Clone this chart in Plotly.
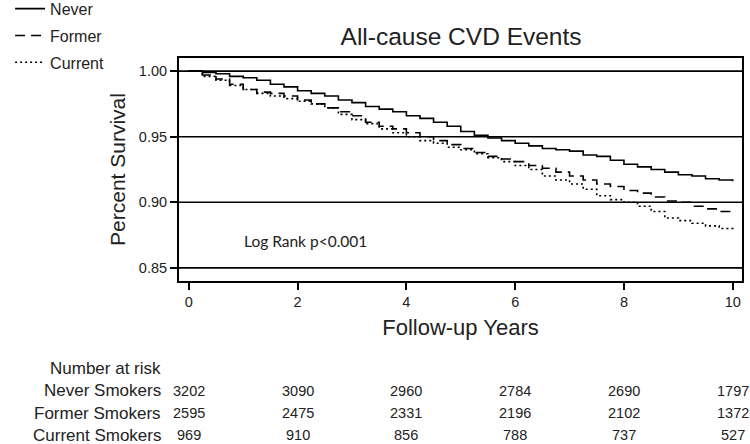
import plotly.graph_objects as go

years = [i * 0.25 for i in range(41)]

never = [1.000, 0.999, 0.998, 0.996, 0.995, 0.993, 0.990, 0.988, 0.985, 0.983,
         0.981, 0.978, 0.976, 0.973, 0.971, 0.969, 0.966, 0.964, 0.961, 0.958,
         0.954, 0.951, 0.949, 0.947, 0.945, 0.943, 0.941, 0.940, 0.939, 0.936,
         0.935, 0.932, 0.929, 0.927, 0.925, 0.923, 0.921, 0.920, 0.918, 0.917, 0.916]
former = [1.000, 0.997, 0.994, 0.990, 0.986, 0.984, 0.983, 0.981, 0.978, 0.975,
          0.972, 0.969, 0.966, 0.961, 0.958, 0.956, 0.953, 0.950, 0.947, 0.944,
          0.941, 0.938, 0.935, 0.933, 0.931, 0.928, 0.926, 0.923, 0.920, 0.917,
          0.914, 0.912, 0.909, 0.907, 0.904, 0.901, 0.900, 0.897, 0.895, 0.893, 0.892]
current = [1.000, 0.996, 0.993, 0.989, 0.986, 0.983, 0.981, 0.979, 0.977, 0.975,
           0.972, 0.967, 0.963, 0.960, 0.956, 0.953, 0.950, 0.947, 0.945, 0.942,
           0.940, 0.937, 0.934, 0.931, 0.928, 0.925, 0.920, 0.917, 0.914, 0.910,
           0.905, 0.902, 0.900, 0.897, 0.893, 0.888, 0.886, 0.884, 0.882, 0.880, 0.879]

risk_years = [0, 2, 4, 6, 8, 10]
risk_labels = ["Never Smokers", "Former Smokers", "Current Smokers"]
risk_never = [3202, 3090, 2960, 2784, 2690, 1797]
risk_former = [2595, 2475, 2331, 2196, 2102, 1372]
risk_current = [969, 910, 856, 788, 737, 527]

x_ticks = [0, 2, 4, 6, 8, 10]
y_ticks = [0.85, 0.90, 0.95, 1.00]

FONT = "Liberation Sans, Arial, sans-serif"
TXT = "#222222"

fig = go.Figure()
series = [("Never", never, "solid"), ("Former", former, "10px,6px"), ("Current", current, "2px,3px")]
for name, vals, dash in series:
    fig.add_trace(go.Scatter(
        x=years, y=vals, mode="lines", name=name, legendgroup=name,
        line=dict(color="black", width=1.6, dash=dash, shape="hv"),
    ))

for yv in y_ticks:
    fig.add_hline(y=yv, line=dict(color="black", width=1.6), layer="below")

annotations = []
annotations.append(dict(x=2.15, y=0.8706, xref="x", yref="y", text="Log Rank p<0.001",
                        showarrow=False, font=dict(family="Lato, Carlito, sans-serif", size=15.5, color=TXT)))

row_y = [-0.493, -0.592, -0.6906]
annotations.append(dict(x=-0.0284, y=-0.3946, xref="paper", yref="paper", text="Number at risk",
                        showarrow=False, xanchor="right", yanchor="middle",
                        font=dict(family=FONT, size=17, color=TXT)))
for lab, ry, vals in zip(risk_labels, row_y, [risk_never, risk_former, risk_current]):
    annotations.append(dict(x=-0.0284, y=ry, xref="paper", yref="paper", text=lab,
                            showarrow=False, xanchor="right", yanchor="middle",
                            font=dict(family=FONT, size=17, color=TXT)))
    for xv, v in zip(risk_years, vals):
        annotations.append(dict(x=xv, y=ry, xref="x", yref="paper", text=str(v),
                                showarrow=False, xanchor="center", yanchor="middle",
                                font=dict(family=FONT, size=14.5, color=TXT)))

fig.update_layout(
    width=750, height=444,
    margin=dict(l=179, r=8, t=58, b=163, autoexpand=False),
    paper_bgcolor="white", plot_bgcolor="white",
    font=dict(family=FONT, color=TXT, size=15),
    title=dict(text="All-cause CVD Events", x=0.501, xref="paper", y=0.918, yref="container",
               xanchor="center", yanchor="middle", font=dict(family=FONT, size=24.5, color=TXT)),
    showlegend=True,
    legend=dict(x=-0.30, y=1.297, xref="paper", yref="paper", xanchor="left", yanchor="top",
                font=dict(family=FONT, size=16, color=TXT), tracegroupgap=3,
                bgcolor="rgba(0,0,0,0)", itemwidth=30),
    annotations=annotations,
    xaxis=dict(range=[-0.18, 10.17], tickvals=x_ticks, ticks="outside", ticklen=7,
               tickwidth=1.5, tickcolor="black", showgrid=False, zeroline=False,
               showline=True, linecolor="black", linewidth=2, mirror=True,
               title=dict(text="Follow-up Years", font=dict(size=22, color=TXT), standoff=10),
               tickfont=dict(size=14.5, color=TXT)),
    yaxis=dict(range=[0.84, 1.01], tickvals=y_ticks, tickformat=".2f", ticks="outside",
               ticklen=7, tickwidth=1.5, tickcolor="black", showgrid=False, zeroline=False,
               showline=True, linecolor="black", linewidth=2, mirror=True,
               title=dict(text="Percent Survival", font=dict(size=21, color=TXT), standoff=8),
               tickfont=dict(size=14.5, color=TXT)),
)

fig.write_html("out.html", config={"displayModeBar": False},
               post_script="document.body.style.margin='0';document.body.style.overflow='hidden';")
